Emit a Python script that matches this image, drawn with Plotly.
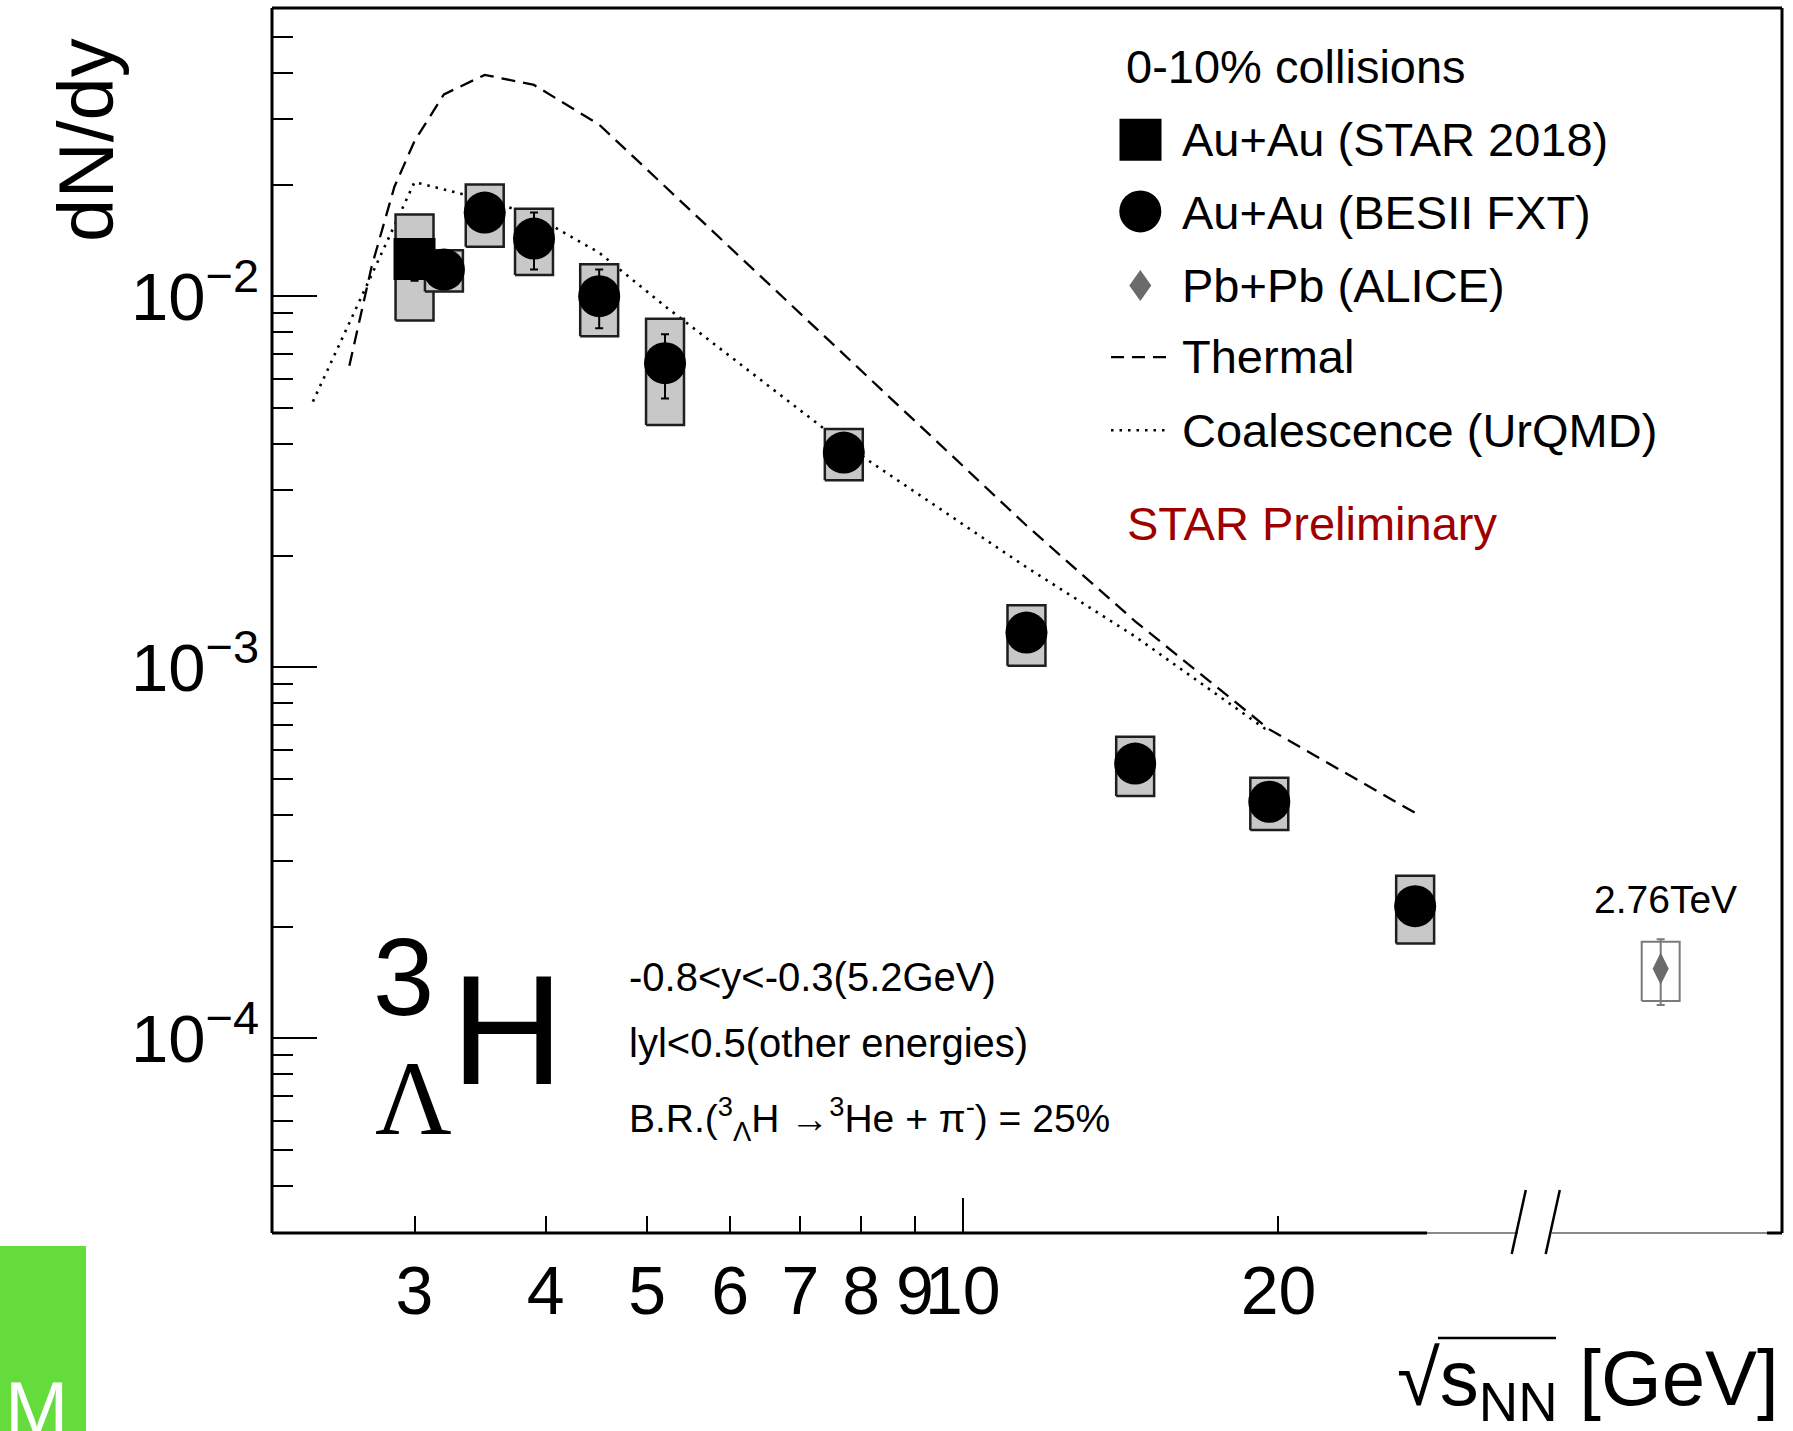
import plotly.graph_objects as go

# ---------------- data ----------------
star18_x = [3.0]
star18_y = [0.0126]
star18_stat = [0.0016]
star18_sys = [0.0040]

bes_x = [3.2, 3.5, 3.9, 4.5, 5.2, 7.7, 11.5, 14.6, 19.6, 27.0]
bes_y = [0.0118, 0.0168, 0.0143, 0.0100, 0.0066, 0.00379, 0.00124, 0.00055, 0.000434, 0.000227]
bes_stat = [0.0006, 0.0008, 0.0025, 0.0018, 0.0013, 0.0002, 0.00006, 0.00003, 0.00002, 0.00001]
bes_sys = [0.0015, 0.0032, 0.0029, 0.0022, 0.0021, 0.0006, 0.00023, 0.0001, 0.00007, 0.000047]

alice_x = [2760.0]
alice_y = [1.54e-4]
alice_stat = [0.31e-4]
alice_sys = [0.28e-4]

thermal_x = [2.6, 2.73, 2.87, 3.0, 3.2, 3.5, 3.9, 4.5, 7.7, 11.5, 14.6, 19.6, 27.0]
thermal_y = [0.0065, 0.0120, 0.0197, 0.0262, 0.0350, 0.0395, 0.0371, 0.0290, 0.00697,
             0.00241, 0.00133, 0.00068, 0.000405]

coal_x = [2.4, 3.0, 3.2, 3.5, 3.9, 4.5, 5.2, 7.7, 11.5, 14.6, 19.6]
coal_y = [0.0052, 0.0203, 0.0194, 0.0182, 0.0165, 0.0131, 0.0094, 0.0040, 0.00186, 0.00121, 0.00067]

x_tick_vals = [3, 4, 5, 6, 7, 8, 9, 10, 20]
x_tick_text = ["3", "4", "5", "6", "7", "8", "9", "10", "20"]
y_tick_vals = [1e-4, 1e-3, 1e-2]
y_tick_text = ["10<sup>\u22124</sup>", "10<sup>\u22123</sup>", "10<sup>\u22122</sup>"]
y_minor_vals = [4e-5, 5e-5, 6e-5, 7e-5, 8e-5, 9e-5,
                2e-4, 3e-4, 4e-4, 5e-4, 6e-4, 7e-4, 8e-4, 9e-4,
                2e-3, 3e-3, 4e-3, 5e-3, 6e-3, 7e-3, 8e-3, 9e-3,
                2e-2, 3e-2, 4e-2, 5e-2]

# ---------------- style / layout helpers ----------------
FONT = "Liberation Sans, Arial, Helvetica, sans-serif"
W, H = 1793, 1431
L, R, T, B = 272, 1782, 8, 1233          # plot frame in pixels


def PX(xf):
    return (xf - L) / (R - L)


def PY(yf):
    return (B - yf) / (B - T)


BREAK = 1534
f_break = PX(BREAK)
X_RANGE = [0.3412, 1.5447]
X2_RANGE = [3.3201, 3.5566]
Y_RANGE = [-4.5248, -1.2232]
BOX_HALF = 0.0181  # half width of systematic boxes in decades


def boxes(xs, ys, sy, h):
    bx, by = [], []
    for x, y, s in zip(xs, ys, sy):
        lo, hi = x * 10 ** (-h), x * 10 ** h
        bx += [lo, hi, hi, lo, lo, None]
        by += [y - s, y - s, y + s, y + s, y - s, None]
    return bx, by


fig = go.Figure()

# theory curves
fig.add_trace(go.Scatter(x=thermal_x, y=thermal_y, mode="lines",
                         line=dict(color="black", width=2.3, dash="14px,8px"),
                         xaxis="x", yaxis="y", hoverinfo="skip"))
fig.add_trace(go.Scatter(x=coal_x, y=coal_y, mode="lines",
                         line=dict(color="black", width=2.6, dash="2.5px,6px"),
                         xaxis="x", yaxis="y", hoverinfo="skip"))

# systematic boxes
bx, by = boxes(star18_x, star18_y, star18_sys, BOX_HALF)
fig.add_trace(go.Scatter(x=bx, y=by, mode="lines", fill="toself", fillcolor="#c8c8c8",
                         line=dict(color="#1e1e1e", width=2.5), xaxis="x", yaxis="y",
                         hoverinfo="skip"))
bx, by = boxes(bes_x, bes_y, bes_sys, BOX_HALF)
fig.add_trace(go.Scatter(x=bx, y=by, mode="lines", fill="toself", fillcolor="#c8c8c8",
                         line=dict(color="#1e1e1e", width=2.5), xaxis="x", yaxis="y",
                         hoverinfo="skip"))

# data points
fig.add_trace(go.Scatter(x=star18_x, y=star18_y, mode="markers",
                         marker=dict(symbol="square", size=42, color="black"),
                         error_y=dict(type="data", array=star18_stat, color="black",
                                      thickness=2, width=4),
                         xaxis="x", yaxis="y"))
fig.add_trace(go.Scatter(x=bes_x, y=bes_y, mode="markers",
                         marker=dict(symbol="circle", size=42, color="black"),
                         error_y=dict(type="data", array=bes_stat, color="black",
                                      thickness=2, width=4),
                         xaxis="x", yaxis="y"))

# ALICE on the broken part of the axis
bx, by = boxes(alice_x, alice_y, alice_sys, BOX_HALF)
fig.add_trace(go.Scatter(x=bx, y=by, mode="lines",
                         line=dict(color="#7a7a7a", width=2), xaxis="x2", yaxis="y",
                         hoverinfo="skip"))
fig.add_trace(go.Scatter(x=alice_x, y=alice_y, mode="markers",
                         marker=dict(symbol="diamond-tall", size=23, color="#6b6b6b"),
                         error_y=dict(type="data", array=alice_stat, color="#7a7a7a",
                                      thickness=2, width=4),
                         xaxis="x2", yaxis="y"))

# dummy traces so that overlay tick axes exist
fig.add_trace(go.Scatter(x=[], y=[], xaxis="x3", yaxis="y", showlegend=False))
fig.add_trace(go.Scatter(x=[], y=[], xaxis="x", yaxis="y2", showlegend=False))

fig.update_layout(
    width=W, height=H,
    margin=dict(l=L, r=W - R, t=T, b=H - B, pad=0),
    paper_bgcolor="white", plot_bgcolor="white",
    showlegend=False,
    font=dict(family=FONT, color="black"),
    xaxis=dict(type="log", domain=[0, f_break], range=X_RANGE, anchor="y",
               tickmode="array", tickvals=x_tick_vals, ticktext=x_tick_text,
               ticks="inside", ticklen=17, tickwidth=2, tickcolor="black",
               tickangle=0, ticklabelstandoff=12,
               tickfont=dict(size=68, family=FONT, color="black"),
               showgrid=False, zeroline=False, showline=False),
    xaxis3=dict(type="log", overlaying="x", range=X_RANGE, anchor="y", side="bottom",
                tickmode="array", tickvals=[10], ticks="inside", ticklen=35,
                tickwidth=2, tickcolor="black", showticklabels=False,
                showgrid=False, zeroline=False, showline=False),
    xaxis2=dict(type="log", domain=[f_break, 1], range=X2_RANGE, anchor="y",
                showticklabels=False, ticks="", showgrid=False, zeroline=False,
                showline=False),
    yaxis=dict(type="log", domain=[0, 1], range=Y_RANGE, anchor="x",
               tickmode="array", tickvals=y_tick_vals, ticktext=y_tick_text,
               ticks="inside", ticklen=45, tickwidth=2, tickcolor="black",
               ticklabelstandoff=12,
               tickfont=dict(size=67, family=FONT, color="black"),
               showgrid=False, zeroline=False, showline=False),
    yaxis2=dict(type="log", overlaying="y", range=Y_RANGE, anchor="x", side="left",
                tickmode="array", tickvals=y_minor_vals, ticks="inside", ticklen=21,
                tickwidth=2, tickcolor="black", showticklabels=False,
                showgrid=False, zeroline=False, showline=False),
)

shapes = []


def pline(x0, y0, x1, y1, color="black", width=3, dash=None):
    d = dict(type="line", xref="paper", yref="paper",
             x0=PX(x0), y0=PY(y0), x1=PX(x1), y1=PY(y1),
             line=dict(color=color, width=width))
    if dash:
        d["line"]["dash"] = dash
    shapes.append(d)


# frame
pline(L, T, L, B)
pline(L, T, R, T)
pline(R, T, R, B)
pline(L, B, 1427, B)
pline(1427, B, 1518, B, color="#8a8a8a", width=2)
pline(1552, B, 1767, B, color="#8a8a8a", width=2)
pline(1767, B, R, B)
# axis break marks
pline(1525.8, 1190, 1511.7, 1254, width=2.5)
pline(1559.8, 1190, 1545.7, 1254, width=2.5)

# legend symbols
shapes.append(dict(type="rect", xref="paper", yref="paper", xsizemode="pixel",
                   ysizemode="pixel", xanchor=PX(1140.5), yanchor=PY(139.8),
                   x0=-21, x1=21, y0=-21, y1=21, fillcolor="black",
                   line=dict(width=0)))
shapes.append(dict(type="circle", xref="paper", yref="paper", xsizemode="pixel",
                   ysizemode="pixel", xanchor=PX(1140.3), yanchor=PY(211.4),
                   x0=-21, x1=21, y0=-21, y1=21, fillcolor="black",
                   line=dict(width=0)))
shapes.append(dict(type="path", xref="paper", yref="paper", xsizemode="pixel",
                   ysizemode="pixel", xanchor=PX(1140.3), yanchor=PY(285.5),
                   path="M 0,-15.5 L 11,0 L 0,15.5 L -11,0 Z", fillcolor="#6b6b6b",
                   line=dict(width=0)))
pline(1111, 357.2, 1169, 357.2, width=2.3, dash="13px,8px")
pline(1111, 430.3, 1169, 430.3, width=2.6, dash="2.5px,6px")

# green logo block
shapes.append(dict(type="rect", xref="paper", yref="paper",
                   x0=PX(0), x1=PX(86), y0=PY(1246), y1=PY(1431),
                   fillcolor="#64dc3c", line=dict(width=0)))

# overline of the square root in the x title
pline(1438, 1338, 1556, 1338, width=2.5)

fig.update_layout(shapes=shapes)

ann = []


def text(s, xf, yf, size, xanchor="left", color="black", family=FONT, angle=0):
    ann.append(dict(text=s, x=PX(xf), y=PY(yf), xref="paper", yref="paper",
                    xanchor=xanchor, yanchor="middle", showarrow=False,
                    textangle=angle,
                    font=dict(size=size, color=color, family=family)))


text("0-10% collisions", 1124, 66, 47)
text("Au+Au (STAR 2018)", 1180, 140, 47)
text("Au+Au (BESII FXT)", 1180, 212, 47)
text("Pb+Pb (ALICE)", 1180, 285, 47)
text("Thermal", 1180, 357, 47)
text("Coalescence (UrQMD)", 1180, 430, 47)
text("STAR Preliminary", 1125, 523, 47, color="#9e0000")

text("2.76TeV", 1665, 899, 39, xanchor="center")

text("-0.8&lt;y&lt;-0.3(5.2GeV)", 627, 977, 40)
text("lyl&lt;0.5(other energies)", 627, 1043, 40)
text("B.R.(<sup>3</sup><sub>\u039b</sub>H \u2192<sup>3</sup>He + \u03c0<sup>-</sup>) = 25%",
     627, 1119, 39)

text("3", 403, 976, 110, xanchor="center")
text("\u039b", 413, 1098, 106, xanchor="center", family="Liberation Serif, Times New Roman, serif")
text("H", 507, 1030, 156, xanchor="center")

text("dN/dy", 86, 140, 78, xanchor="center", angle=-90)
text("\u221as<sub>NN</sub> [GeV]", 1781, 1383, 78, xanchor="right")

text("M", 36, 1408, 76, xanchor="center", color="white")

fig.update_layout(annotations=ann)

fig.write_html("out.html")
